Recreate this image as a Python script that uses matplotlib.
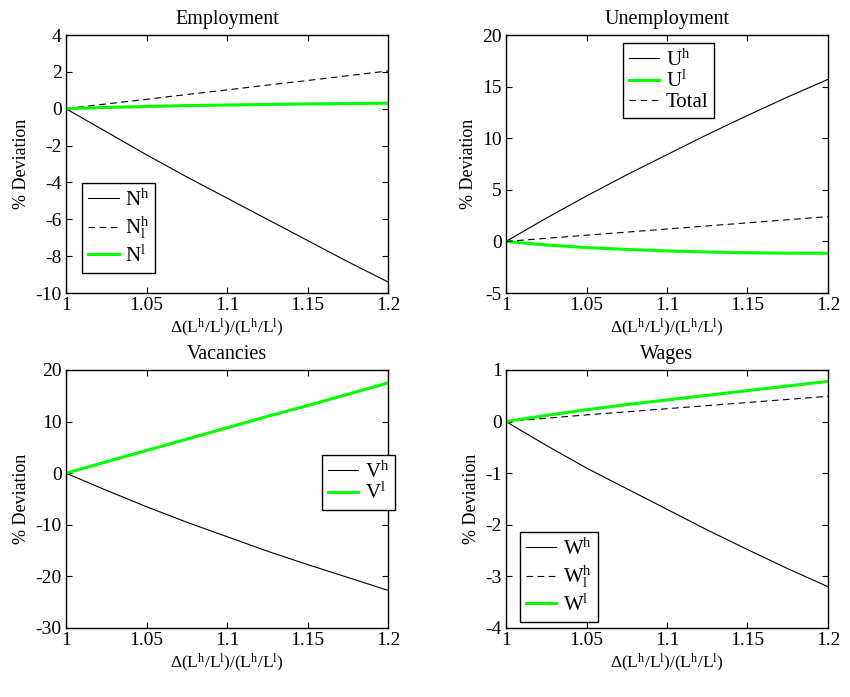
import matplotlib
matplotlib.use("Agg")
import matplotlib.pyplot as plt
import numpy as np

plt.rcParams['font.family'] = ['Liberation Serif', 'DejaVu Serif']
plt.rcParams['mathtext.fontset'] = 'custom'
plt.rcParams['mathtext.rm'] = 'Liberation Serif'
plt.rcParams['mathtext.it'] = 'Liberation Serif:italic'
plt.rcParams['axes.unicode_minus'] = False
plt.rcParams['font.size'] = 12

# relative skill supply ratio
ratio = [1.0, 1.025, 1.05, 1.075, 1.1, 1.125, 1.15, 1.175, 1.2]

# Employment (% deviation)
emp_high = [0, -1.25, -2.5, -3.7, -4.85, -6.0, -7.15, -8.3, -9.4]
emp_high_low = [0, 0.26, 0.51, 0.77, 1.02, 1.28, 1.53, 1.79, 2.05]
emp_low = [0, 0.07, 0.12, 0.17, 0.2, 0.23, 0.26, 0.28, 0.3]

# Unemployment (% deviation)
unemp_high = [0, 2.25, 4.4, 6.45, 8.4, 10.35, 12.2, 14.0, 15.7]
unemp_low = [0, -0.35, -0.6, -0.78, -0.92, -1.03, -1.1, -1.14, -1.15]
unemp_total = [0, 0.3, 0.6, 0.9, 1.2, 1.5, 1.8, 2.1, 2.4]

# Vacancies (% deviation)
vac_high = [0, -3.3, -6.5, -9.5, -12.3, -15.1, -17.7, -20.2, -22.7]
vac_low = [0, 2.2, 4.4, 6.6, 8.8, 11.0, 13.1, 15.3, 17.5]

# Wages (% deviation)
wage_high = [0, -0.46, -0.9, -1.3, -1.7, -2.1, -2.48, -2.85, -3.2]
wage_high_low = [0, 0.065, 0.13, 0.19, 0.25, 0.31, 0.37, 0.43, 0.49]
wage_low = [0, 0.12, 0.23, 0.33, 0.42, 0.51, 0.6, 0.69, 0.78]

xticks = [1, 1.05, 1.1, 1.15, 1.2]
xticklabels = ['1', '1.05', '1.1', '1.15', '1.2']

green = '#00ff00'
xlab = r'$\Delta(\mathrm{L^h/L^l})/(\mathrm{L^h/L^l})$'

TICK_FS = 14
TITLE_FS = 14.5
YLAB_FS = 13
XLAB_FS = 12.5
LEG_FS = 15

fig = plt.figure(figsize=(8.5, 6.97), dpi=100)

W = 322 / 850
H = 258 / 697
lefts = [66 / 850, 506 / 850]
bottoms = [(697 - 293) / 697, (697 - 628) / 697]


def make_axes(col, row):
    ax = fig.add_axes([lefts[col], bottoms[row], W, H])
    ax.tick_params(direction='in', top=True, right=True, length=4, width=0.8,
                   labelsize=TICK_FS, pad=3)
    ax.set_xlim(1, 1.2)
    ax.set_xticks(xticks)
    ax.set_xticklabels(xticklabels)
    for s in ax.spines.values():
        s.set_linewidth(1.0)
    return ax


def add_legend(ax, x0, y0, spacing):
    leg = ax.legend(loc='upper left', bbox_to_anchor=(x0, y0), fontsize=LEG_FS,
                    handlelength=1.45, handletextpad=0.3, borderaxespad=0,
                    labelspacing=spacing, borderpad=0.3, fancybox=False,
                    framealpha=1)
    leg.get_frame().set_edgecolor('black')
    leg.get_frame().set_linewidth(1.0)
    leg.get_frame().set_boxstyle('square', pad=0.0)
    return leg


def decorate(ax, title):
    ax.set_title(title, fontsize=TITLE_FS, pad=8)
    ax.set_ylabel('% Deviation', fontsize=YLAB_FS, labelpad=4)
    ax.set_xlabel(xlab, fontsize=XLAB_FS, labelpad=2)


# Employment
ax = make_axes(0, 0)
ax.plot(ratio, emp_high, color='black', lw=0.8, label=r'N$^{\mathrm{h}}$')
ax.plot(ratio, emp_high_low, color='black', lw=0.8, ls=(0, (6, 4)),
        label=r'N$^{\mathrm{h}}_{\mathrm{l}}$')
ax.plot(ratio, emp_low, color=green, lw=2.2, label=r'N$^{\mathrm{l}}$')
ax.set_ylim(-10, 4)
ax.set_yticks(range(-10, 5, 2))
decorate(ax, 'Employment')
add_legend(ax, 0.05, 0.426, 0.2)

# Unemployment
ax = make_axes(1, 0)
ax.plot(ratio, unemp_high, color='black', lw=0.8, label=r'U$^{\mathrm{h}}$')
ax.plot(ratio, unemp_low, color=green, lw=2.2, label=r'U$^{\mathrm{l}}$')
ax.plot(ratio, unemp_total, color='black', lw=0.8, ls=(0, (6, 4)), label='Total')
ax.set_ylim(-5, 20)
ax.set_yticks(range(-5, 21, 5))
decorate(ax, 'Unemployment')
add_legend(ax, 0.363, 0.969, 0.02)

# Vacancies
ax = make_axes(0, 1)
ax.plot(ratio, vac_high, color='black', lw=0.8, label=r'V$^{\mathrm{h}}$')
ax.plot(ratio, vac_low, color=green, lw=2.2, label=r'V$^{\mathrm{l}}$')
ax.set_ylim(-30, 20)
ax.set_yticks(range(-30, 21, 10))
decorate(ax, 'Vacancies')
add_legend(ax, 0.795, 0.67, 0.02)

# Wages
ax = make_axes(1, 1)
ax.plot(ratio, wage_high, color='black', lw=0.8, label=r'W$^{\mathrm{h}}$')
ax.plot(ratio, wage_high_low, color='black', lw=0.8, ls=(0, (6, 4)),
        label=r'W$^{\mathrm{h}}_{\mathrm{l}}$')
ax.plot(ratio, wage_low, color=green, lw=2.2, label=r'W$^{\mathrm{l}}$')
ax.set_ylim(-4, 1)
ax.set_yticks(range(-4, 2))
decorate(ax, 'Wages')
add_legend(ax, 0.043, 0.372, 0.2)

fig.savefig('out.png', dpi=100, facecolor='white')
